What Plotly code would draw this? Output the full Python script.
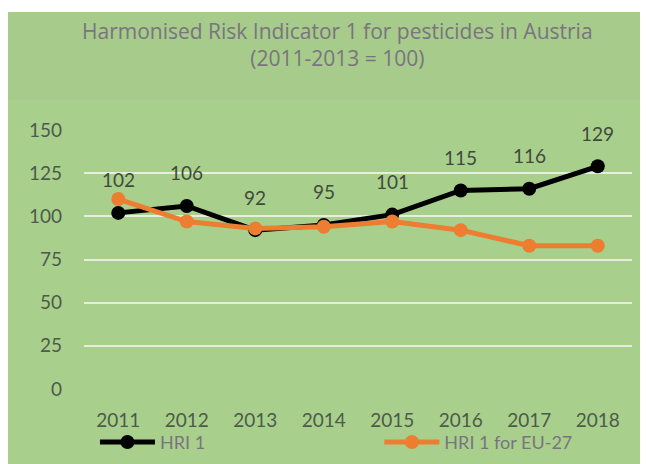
import plotly.graph_objects as go

years = ["2011", "2012", "2013", "2014", "2015", "2016", "2017", "2018"]
hri_austria = [102, 106, 92, 95, 101, 115, 116, 129]
hri_eu27 = [110, 97, 93, 94, 97, 92, 83, 83]
y_ticks = [0, 25, 50, 75, 100, 125, 150]

FONT = "Lato"
fig = go.Figure()
fig.add_trace(go.Scatter(
    x=years, y=hri_austria, name="HRI 1", mode="lines+markers",
    line=dict(color="black", width=5), marker=dict(size=14, color="black"),
    legend="legend",
))
fig.add_trace(go.Scatter(
    x=years, y=hri_eu27, name="HRI 1 for EU-27", mode="lines+markers",
    line=dict(color="#ed7d31", width=5), marker=dict(size=14, color="#ed7d31"),
    legend="legend2",
))

# data labels (x given as category index so the axis is not stretched)
for i, v in enumerate(hri_austria):
    fig.add_annotation(x=i, y=v, text=str(v), showarrow=False, yshift=33,
                       font=dict(family=FONT, size=19, color="#404a3c"))

fig.add_annotation(xref="paper", yref="paper", x=0.4617, y=1.332,
                   text="Harmonised Risk Indicator 1 for pesticides in Austria<br>(2011-2013 = 100)",
                   showarrow=False, font=dict(family="Open Sans", size=21, color="#7a7480"),
                   yanchor="middle", align="center")

leg_common = dict(orientation="h", yanchor="middle", xanchor="left", y=-0.206,
                  font=dict(family=FONT, size=18, color="#7a7480"),
                  itemwidth=55, bgcolor="rgba(0,0,0,0)")
fig.update_layout(
    width=648, height=464,
    margin=dict(l=76, r=24, t=122, b=83, autoexpand=False),
    paper_bgcolor="#a8d08c", plot_bgcolor="#a8d08c",
    showlegend=True,
    legend=dict(x=0.02, **leg_common),
    legend2=dict(x=0.539, **leg_common),
    font=dict(family=FONT),
)
# lighter title band and thin white strip at the very top
fig.add_shape(type="rect", xref="paper", yref="paper", x0=-0.2, x1=1.1, y0=1.116, y1=1.456,
              fillcolor="#a6cb8a", line=dict(width=0), layer="below")
fig.add_shape(type="rect", xref="paper", yref="paper", x0=-0.2, x1=1.1, y0=1.456, y1=1.6,
              fillcolor="white", line=dict(width=0), layer="below")

fig.update_xaxes(type="category", range=[-0.5, 7.5], showgrid=False, showline=False,
                 ticks="", ticklabelstandoff=18, automargin=False,
                 tickfont=dict(family=FONT, size=19, color="#4e5a4a"))
fig.update_yaxes(range=[0, 150], tickvals=y_ticks, showgrid=True, gridcolor="#e6eee0",
                 gridwidth=2, zeroline=False, showline=False, ticks="",
                 ticklabelstandoff=21, automargin=False,
                 tickfont=dict(family=FONT, size=19, color="#4e5a4a"))

fig.write_html("out.html")
